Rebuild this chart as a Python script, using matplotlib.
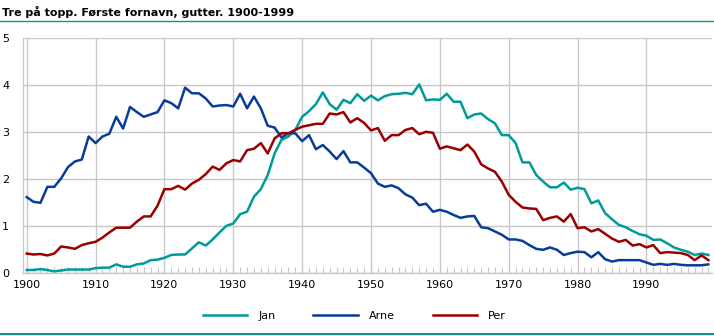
import matplotlib
matplotlib.use("Agg")
import matplotlib.pyplot as plt
from matplotlib.ticker import MultipleLocator

# data (per cent of boys born each year)
years = list(range(1900, 2000))

jan = [0.07, 0.07, 0.09, 0.07, 0.04, 0.06, 0.08, 0.08, 0.08, 0.08,
       0.11, 0.12, 0.12, 0.19, 0.14, 0.14, 0.19, 0.21, 0.28, 0.29,
       0.33, 0.39, 0.40, 0.40, 0.53, 0.66, 0.59, 0.72, 0.87, 1.01,
       1.06, 1.26, 1.31, 1.63, 1.79, 2.09, 2.55, 2.84, 2.91, 3.05,
       3.33, 3.45, 3.60, 3.85, 3.60, 3.48, 3.69, 3.62, 3.81, 3.67,
       3.78, 3.68, 3.77, 3.81, 3.82, 3.84, 3.81, 4.02, 3.68, 3.70,
       3.69, 3.82, 3.65, 3.65, 3.30, 3.38, 3.40, 3.28, 3.19, 2.94,
       2.94, 2.77, 2.36, 2.36, 2.09, 1.95, 1.83, 1.83, 1.93, 1.78,
       1.82, 1.79, 1.49, 1.55, 1.28, 1.15, 1.03, 0.98, 0.90, 0.83,
       0.80, 0.71, 0.72, 0.64, 0.55, 0.50, 0.46, 0.39, 0.42, 0.39]

arne = [1.62, 1.52, 1.50, 1.84, 1.84, 2.02, 2.26, 2.38, 2.42, 2.91,
        2.77, 2.91, 2.97, 3.33, 3.08, 3.54, 3.43, 3.33, 3.38, 3.43,
        3.68, 3.62, 3.51, 3.95, 3.83, 3.83, 3.72, 3.55, 3.57, 3.58,
        3.55, 3.82, 3.51, 3.76, 3.51, 3.14, 3.10, 2.89, 2.98, 2.98,
        2.81, 2.94, 2.64, 2.73, 2.59, 2.43, 2.60, 2.36, 2.36, 2.25,
        2.13, 1.91, 1.84, 1.87, 1.81, 1.68, 1.61, 1.45, 1.48, 1.31,
        1.35, 1.31, 1.24, 1.18, 1.21, 1.22, 0.98, 0.96, 0.89, 0.82,
        0.72, 0.72, 0.69, 0.60, 0.52, 0.50, 0.55, 0.50, 0.39, 0.43,
        0.46, 0.45, 0.34, 0.45, 0.30, 0.25, 0.28, 0.28, 0.28, 0.28,
        0.23, 0.18, 0.20, 0.18, 0.20, 0.18, 0.17, 0.17, 0.17, 0.19]

per = [0.42, 0.40, 0.41, 0.38, 0.42, 0.57, 0.55, 0.52, 0.60, 0.64,
       0.67, 0.76, 0.87, 0.97, 0.97, 0.97, 1.10, 1.21, 1.21, 1.44,
       1.79, 1.79, 1.86, 1.78, 1.91, 1.99, 2.11, 2.27, 2.20, 2.34,
       2.41, 2.38, 2.62, 2.65, 2.77, 2.55, 2.87, 2.98, 2.98, 3.05,
       3.12, 3.15, 3.18, 3.18, 3.40, 3.38, 3.43, 3.21, 3.30, 3.20,
       3.04, 3.09, 2.82, 2.94, 2.94, 3.05, 3.09, 2.96, 3.01, 2.99,
       2.65, 2.70, 2.66, 2.62, 2.74, 2.59, 2.32, 2.23, 2.16, 1.95,
       1.67, 1.52, 1.40, 1.38, 1.37, 1.13, 1.18, 1.21, 1.10, 1.26,
       0.96, 0.98, 0.89, 0.94, 0.84, 0.74, 0.67, 0.71, 0.59, 0.62,
       0.55, 0.60, 0.43, 0.45, 0.44, 0.43, 0.39, 0.28, 0.38, 0.28]

names = ["Jan", "Arne", "Per"]
colors = ["#009a9a", "#073c9c", "#9a0000"]
grid_col = "#c8c8c8"

fig = plt.figure(figsize=(7.14, 3.36), dpi=100)
ax = fig.add_axes([23 / 714, (336 - 273.3) / 336, 688.5 / 714, (273.3 - 38.3) / 336])

for name, vals, col in zip(names, [jan, arne, per], colors):
    ax.plot(years, vals, color=col, lw=1.8, label=name)

ax.set_xlim(1899.46, 1999.45)
ax.set_ylim(0, 5)
ax.xaxis.set_major_locator(MultipleLocator(10))
ax.xaxis.set_minor_locator(MultipleLocator(1))
ax.yaxis.set_major_locator(MultipleLocator(1))
ax.grid(True, which="major", color=grid_col, lw=1.0)
ax.set_axisbelow(True)
for side in ["top", "right"]:
    ax.spines[side].set_visible(False)
for side in ["left", "bottom"]:
    ax.spines[side].set_color(grid_col)
    ax.spines[side].set_linewidth(1.0)
ax.tick_params(axis="x", which="minor", direction="in", length=4, color=grid_col, width=0.8)
ax.tick_params(axis="x", which="major", direction="in", length=4, color=grid_col,
               labelsize=8, pad=5)
ax.tick_params(axis="y", length=0, labelsize=8, pad=10)

fig.text(0.003, 0.965, "Tre på topp. Første fornavn, gutter. 1900-1999",
         fontsize=8, fontweight="bold", va="center", ha="left")
fig.add_artist(plt.Line2D([0, 1], [1 - 21 / 336, 1 - 21 / 336], color="#14928f", lw=1.0))
fig.add_artist(plt.Line2D([0, 1], [1 - 334 / 336, 1 - 334 / 336], color="#14928f", lw=1.5))

fig.legend(loc="center", bbox_to_anchor=(0.4965, 1 - 316 / 336), ncol=3, frameon=False,
           fontsize=8, handlelength=4.0, columnspacing=3.4, handletextpad=1.0)

fig.savefig("out.png", dpi=100)
